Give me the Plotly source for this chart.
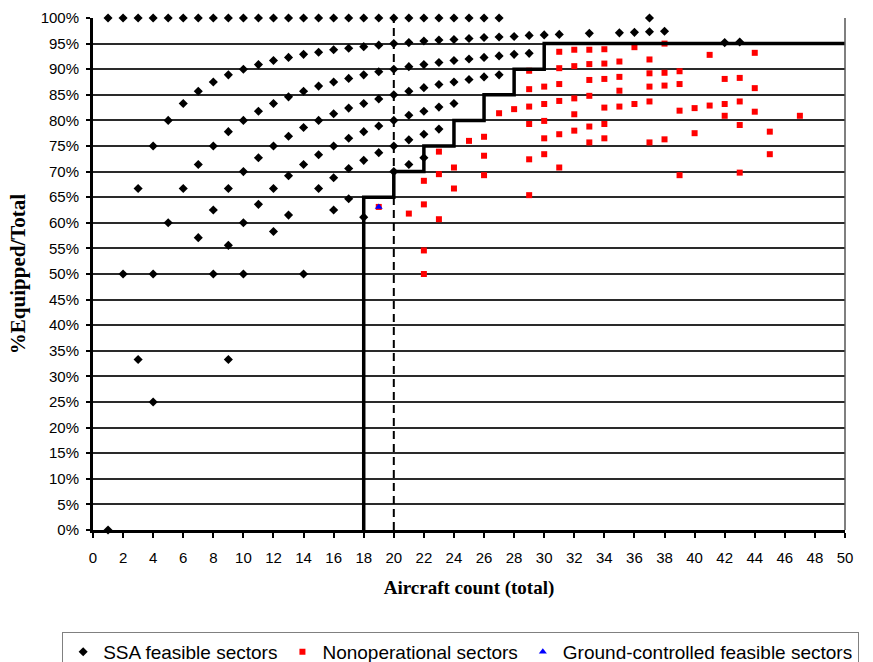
import plotly.graph_objects as go

# SSA feasible sectors (aircraft count, % equipped)
ssa_x = [1, 1,
         2, 2,
         3, 3, 3,
         4, 4, 4, 4,
         5, 5, 5,
         6, 6, 6,
         7, 7, 7, 7,
         8, 8, 8, 8, 8,
         9, 9, 9, 9, 9, 9,
         10, 10, 10, 10, 10, 10,
         11, 11, 11, 11, 11,
         12, 12, 12, 12, 12, 12,
         13, 13, 13, 13, 13, 13,
         14, 14, 14, 14, 14, 14,
         15, 15, 15, 15, 15, 15,
         16, 16, 16, 16, 16, 16, 16,
         17, 17, 17, 17, 17, 17, 17,
         18, 18, 18, 18, 18, 18, 18,
         19, 19, 19, 19, 19, 19,
         20, 20, 20, 20, 20, 20, 20,
         21, 21, 21, 21, 21, 21, 21,
         22, 22, 22, 22, 22, 22, 22,
         23, 23, 23, 23, 23, 23,
         24, 24, 24, 24, 24,
         25, 25, 25, 25,
         26, 26, 26, 26,
         27, 27, 27, 27,
         28, 28,
         29, 29,
         30, 31, 33, 35, 36,
         37, 37,
         38, 42, 43]
ssa_y = [100, 0,
         100, 50,
         100, 66.7, 33.3,
         100, 75, 50, 25,
         100, 80, 60,
         100, 83.3, 66.7,
         100, 85.7, 71.4, 57.1,
         100, 87.5, 75, 62.5, 50,
         100, 88.9, 77.8, 66.7, 55.6, 33.3,
         100, 90, 80, 70, 60, 50,
         100, 90.9, 81.8, 72.7, 63.6,
         100, 91.7, 83.3, 75, 66.7, 58.3,
         100, 92.3, 84.6, 76.9, 69.2, 61.5,
         100, 92.9, 85.7, 78.6, 71.4, 50,
         100, 93.3, 86.7, 80, 73.3, 66.7,
         100, 93.8, 87.5, 81.3, 75, 68.8, 62.5,
         100, 94.1, 88.2, 82.4, 76.5, 70.6, 64.7,
         100, 94.4, 88.9, 83.3, 77.8, 72.2, 61.1,
         100, 94.7, 89.5, 84.2, 78.9, 73.7,
         100, 95, 90, 85, 80, 75, 70,
         100, 95.2, 90.5, 85.7, 81.0, 76.2, 71.4,
         100, 95.5, 90.9, 86.4, 81.8, 77.3, 72.7,
         100, 95.7, 91.3, 87.0, 82.6, 78.3,
         100, 95.8, 91.7, 87.5, 83.3,
         100, 96.0, 92.0, 88.0,
         100, 96.2, 92.3, 88.5,
         100, 96.3, 92.6, 88.9,
         96.4, 92.9,
         96.6, 93.1,
         96.7, 96.8, 97.0, 97.1, 97.2,
         100, 97.3,
         97.4, 95.2, 95.3]

# Nonoperational sectors
nonop_x = [19, 21,
           22, 22, 22, 22,
           23, 23, 23,
           24, 24,
           25,
           26, 26, 26,
           27, 28,
           29, 29, 29, 29, 29, 29,
           30, 30, 30, 30, 30,
           31, 31, 31, 31, 31, 31,
           32, 32, 32, 32, 32,
           33, 33, 33, 33, 33, 33,
           34, 34, 34, 34, 34, 34,
           35, 35, 35, 35,
           36, 36,
           37, 37, 37, 37, 37,
           38, 38, 38, 38,
           39, 39, 39, 39,
           40, 40,
           41, 41,
           42, 42, 42,
           43, 43, 43, 43,
           44, 44, 44,
           45, 45,
           47]
nonop_y = [63.1, 61.8,
           68.2, 63.6, 54.6, 50.0,
           73.9, 69.5, 60.7,
           70.8, 66.7,
           76.0,
           76.8, 73.1, 69.3,
           81.4, 82.2,
           89.7, 86.1, 82.7, 79.3, 72.4, 65.4,
           86.6, 83.2, 79.9, 76.5, 73.4,
           93.4, 90.2, 87.1, 83.8, 77.3, 70.8,
           93.8, 90.6, 84.3, 81.2, 78.0,
           93.8, 91.0, 87.9, 84.8, 78.8, 75.7,
           93.9, 91.1, 88.1, 82.5, 79.3, 76.5,
           91.5, 88.5, 85.8, 82.7,
           94.3, 83.2,
           91.9, 89.2, 86.6, 83.7, 75.7,
           95.0, 89.3, 86.8, 76.3,
           89.6, 87.1, 81.9, 69.3,
           82.4, 77.5,
           92.8, 82.9,
           88.1, 83.2, 80.9,
           88.3, 83.7, 79.1, 69.8,
           93.2, 86.3, 81.7,
           77.8, 73.4,
           80.9]

# Ground-controlled feasible sectors
ground_x = [19]
ground_y = [63.1]

# Threshold step line and reference line
step_x = [18, 18, 20, 22, 24, 26, 28, 30, 50]
step_y = [0, 65, 70, 75, 80, 85, 90, 95, 95]
ref_x = [20, 20]
ref_y = [0, 100]

x_ticks = list(range(0, 51, 2))
y_ticks = list(range(0, 101, 5))
y_labels = [f"{v}%" for v in y_ticks]

fig = go.Figure()
fig.add_trace(go.Scatter(x=ssa_x, y=ssa_y, mode="markers", name="SSA feasible sectors",
                         cliponaxis=False,
                         marker=dict(symbol="diamond", size=7, color="black")))
fig.add_trace(go.Scatter(x=nonop_x, y=nonop_y, mode="markers", name="Nonoperational sectors",
                         marker=dict(symbol="square", size=6, color="#ff0000")))
fig.add_trace(go.Scatter(x=ground_x, y=ground_y, mode="markers", name="Ground-controlled feasible sectors",
                         marker=dict(symbol="triangle-up", size=7, color="#0000ff")))
fig.add_trace(go.Scatter(x=step_x, y=step_y, mode="lines", line=dict(color="black", width=3.5, shape="hv"),
                         showlegend=False, hoverinfo="skip"))
fig.add_trace(go.Scatter(x=ref_x, y=ref_y, mode="lines", line=dict(color="black", width=2, dash="8px,5px"),
                         showlegend=False, hoverinfo="skip"))

tick_font = dict(family="Liberation Sans, Arial, sans-serif", size=15, color="black")

fig.update_layout(
    width=873, height=662,
    margin=dict(l=93, r=28, t=18, b=132, autoexpand=False),
    paper_bgcolor="white", plot_bgcolor="white",
    showlegend=True,
    legend=dict(orientation="h", x=-0.041, y=-0.199, xanchor="left", yanchor="top",
                bordercolor="#808080", borderwidth=1,
                font=dict(family="Liberation Sans, Arial, sans-serif", size=19, color="black"),
                itemwidth=30, tracegroupgap=0),
    xaxis=dict(range=[0, 50], tickvals=x_ticks, ticks="outside", ticklen=5, tickwidth=2,
               tickcolor="black", showgrid=False, zeroline=False, showline=True,
               linecolor="black", linewidth=3, tickfont=tick_font, ticklabelstandoff=7,
               title=dict(text="<b>Aircraft count (total)</b>",
                          font=dict(family="Liberation Serif, Times New Roman, serif", size=19, color="black"),
                          standoff=16)),
    yaxis=dict(range=[0, 100], tickvals=y_ticks, ticktext=y_labels, ticks="outside", ticklen=4,
               tickwidth=2, tickcolor="black", showgrid=True, gridcolor="#2a2a2a", gridwidth=1.5,
               zeroline=False, showline=True, linecolor="black", linewidth=3, tickfont=tick_font,
               ticklabelstandoff=4,
               title=dict(text="<b>%Equipped/Total</b>",
                          font=dict(family="Liberation Serif, Times New Roman, serif", size=21, color="black"),
                          standoff=10)),
    shapes=[dict(type="line", xref="paper", yref="paper", x0=1, x1=1, y0=0, y1=1,
                 line=dict(color="#555555", width=1.5))],
)

fig.write_html("out.html")
